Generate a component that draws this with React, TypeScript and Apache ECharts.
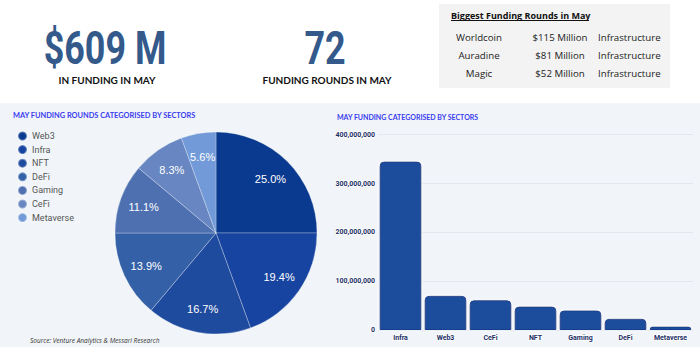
import React, { useEffect, useRef } from "react";
import * as echarts from "echarts";

const pieCategories = ["Web3", "Infra", "NFT", "DeFi", "Gaming", "CeFi", "Metaverse"];
const pieCounts = [18, 14, 12, 10, 8, 6, 4];
const pieColors = ["#0a3a8f", "#1744a0", "#1f4b9e", "#3460a8", "#4e70b1", "#6886c1", "#729ad8"];

const barCategories = ["Infra", "Web3", "CeFi", "NFT", "Gaming", "DeFi", "Metaverse"];
const barValues = [345000000, 70000000, 61000000, 48000000, 40000000, 23000000, 7000000];

const headlineValues = ["$609 M", "72"];
const headlineLabels = ["IN FUNDING IN MAY", "FUNDING ROUNDS IN MAY"];

const tableTitle = "Biggest Funding Rounds in May";
const tableNames = ["Worldcoin", "Auradine", "Magic"];
const tableAmounts = ["$115 Million", "$81 Million", "$52 Million"];
const tableSectors = ["Infrastructure", "Infrastructure", "Infrastructure"];

export default function App() {
  const ref = useRef<HTMLDivElement>(null);
  useEffect(() => {
    if (!ref.current) return;
    const chart = echarts.init(ref.current, null, { renderer: "svg" });
    const total = pieCounts.reduce((a, b) => a + b, 0);
    const pieData = pieCategories.map((name, i) => ({
      name,
      value: pieCounts[i],
      itemStyle: { color: pieColors[i] },
    }));
    const headX = [105, 325];
    const graphic: any[] = [
      { type: "rect", shape: { x: 0, y: 0, width: 700, height: 103 }, style: { fill: "#ffffff" }, silent: true },
      { type: "rect", shape: { x: 439, y: 4, width: 231, height: 84 }, style: { fill: "#f3f3f3" }, silent: true },
      {
        type: "text", x: 451, y: 15,
        style: { text: tableTitle, fill: "#111", font: "bold 9px 'Open Sans'", verticalAlign: "middle", align: "left" },
      },
      { type: "line", shape: { x1: 451, y1: 20.5, x2: 589, y2: 20.5 }, style: { stroke: "#111", lineWidth: 1 } },
    ];
    headlineValues.forEach((t, i) => {
      graphic.push({
        type: "text", x: headX[i], y: 48, scaleX: 0.78,
        style: { text: t, fill: "#34598b", font: "bold 46px Roboto", align: "center", verticalAlign: "middle" },
      });
      graphic.push({
        type: "text", x: headX[i] + 2, y: 80,
        style: { text: headlineLabels[i], fill: "#111", font: "bold 10px Lato", align: "center", verticalAlign: "middle" },
      });
    });
    const rowY = [37, 55, 73];
    tableNames.forEach((n, i) => {
      graphic.push({ type: "text", x: 479, y: rowY[i], style: { text: n, fill: "#222", font: "9.7px 'Open Sans'", align: "center", verticalAlign: "middle" } });
      graphic.push({ type: "text", x: 560, y: rowY[i], style: { text: tableAmounts[i], fill: "#222", font: "9.7px 'Open Sans'", align: "center", verticalAlign: "middle" } });
      graphic.push({ type: "text", x: 598, y: rowY[i], style: { text: tableSectors[i], fill: "#222", font: "9.7px 'Open Sans'", align: "left", verticalAlign: "middle" } });
    });
    graphic.push({
      type: "text", x: 13, y: 115,
      style: { text: "MAY FUNDING ROUNDS CATEGORISED BY SECTORS", fill: "#3a3cf0", font: "bold 7.4px Lato", verticalAlign: "middle" },
    });
    graphic.push({
      type: "text", x: 337, y: 117,
      style: { text: "MAY FUNDING CATEGORISED BY SECTORS", fill: "#3a3cf0", font: "bold 7px Lato", verticalAlign: "middle" },
    });
    graphic.push({
      type: "text", x: 30, y: 340,
      style: { text: "Source: Venture Analytics & Messari Research", fill: "#333", font: "italic 6.5px 'Open Sans'", verticalAlign: "middle" },
    });

    chart.setOption({
      animation: false,
      backgroundColor: "#f1f5f9",
      graphic,
      legend: {
        data: pieCategories,
        orient: "vertical",
        left: 12,
        top: 125.5,
        icon: "circle",
        itemWidth: 9,
        itemHeight: 9,
        itemGap: 2.6,
        textStyle: { color: "#555", fontSize: 9, fontFamily: "Roboto" },
      },
      grid: { left: 378, right: 7, top: 134.7, bottom: 17 },
      xAxis: {
        type: "category",
        data: barCategories,
        axisLine: { show: false },
        axisTick: { show: false },
        axisLabel: {
          margin: 4, fontSize: 7, fontWeight: "bold", color: "#1c2f66", fontFamily: "Roboto",
          textBorderColor: "#fff", textBorderWidth: 1.5,
        },
      },
      yAxis: {
        type: "value",
        min: 0,
        max: 400000000,
        interval: 100000000,
        axisLine: { show: false },
        axisTick: { show: false },
        splitLine: { lineStyle: { color: "#e3e8ef", width: 1 } },
        axisLabel: {
          margin: 3, fontSize: 7, fontWeight: "bold", color: "#1c2f66", fontFamily: "Roboto",
          textBorderColor: "#fff", textBorderWidth: 1.5,
          formatter: (v: number) => v.toLocaleString("en-US"),
        },
      },
      series: [
        {
          type: "pie",
          center: [216, 233],
          radius: [0, 101],
          startAngle: 90,
          clockwise: true,
          data: pieData,
          label: { show: false },
          labelLine: { show: false },
          itemStyle: { borderColor: "rgba(255,255,255,0.35)", borderWidth: 0.8 },
          silent: true,
        },
        {
          type: "pie",
          center: [216, 233],
          radius: [47, 101],
          startAngle: 90,
          clockwise: true,
          legendHoverLink: false,
          data: pieCategories.map((name, i) => ({ name: name + " ", value: pieCounts[i] })),
          itemStyle: { color: "rgba(0,0,0,0)" },
          label: {
            show: true,
            position: "inside",
            color: "#fff",
            fontSize: 11,
            fontFamily: "Arial, 'Liberation Sans'",
            formatter: (p: any) => ((p.value / total) * 100).toFixed(1) + "%",
          },
          labelLine: { show: false },
          silent: true,
        },
        {
          type: "bar",
          data: barValues,
          barCategoryGap: "7%",
          itemStyle: {
            color: "#1f4e9c",
            borderColor: "#143f8d",
            borderWidth: 1,
            borderRadius: [4, 4, 0, 0],
            shadowColor: "rgba(255,255,255,0.9)",
            shadowBlur: 3,
          },
        },
      ],
    });
    return () => chart.dispose();
  }, []);
  return <div ref={ref} style={{ position: "absolute", left: 0, top: 0, width: 700, height: 347 }} />;
}
